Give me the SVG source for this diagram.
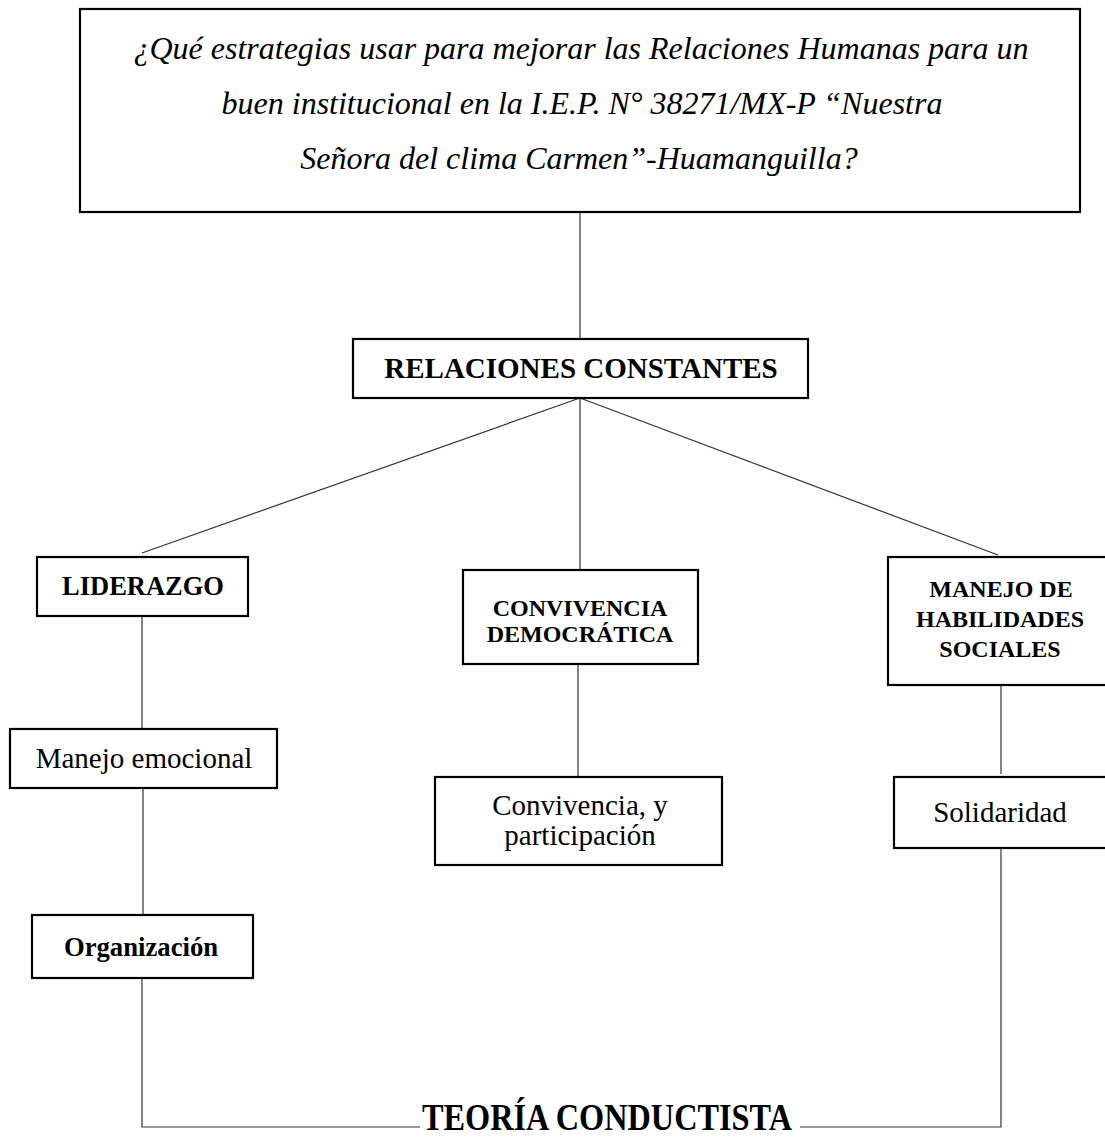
<svg xmlns="http://www.w3.org/2000/svg" width="1105" height="1140" viewBox="0 0 1105 1140">
<style>
.box{fill:#fff;stroke:#000;stroke-width:2.2}
.conn line,.conn polyline{stroke:#333;stroke-width:1.2;fill:none}
text{font-family:"Liberation Serif","Times New Roman",serif;fill:#000;text-anchor:middle}
.q{font-style:italic;font-size:32px}
.b{font-weight:bold}
.r{font-size:29px}
</style>
<rect width="1105" height="1140" fill="#fff"/>
<g class="conn">
<line x1="580" y1="212" x2="580" y2="339"/>
<line x1="580" y1="398" x2="142" y2="553"/>
<line x1="580" y1="398" x2="580" y2="570"/>
<line x1="580" y1="398" x2="998" y2="555"/>
<line x1="142" y1="616" x2="142" y2="729"/>
<line x1="143" y1="788" x2="143" y2="915"/>
<line x1="578" y1="664" x2="578" y2="777"/>
<line x1="1001" y1="686" x2="1001" y2="774"/>
<polyline points="142,978 142,1127 420,1127"/>
<polyline points="800,1127 1001,1127 1001,848"/>
</g>
<g id="question">
<rect class="box" x="80" y="9" width="1000" height="203"/>
<text class="q" x="581" y="59">¿Qué estrategias usar para mejorar las Relaciones Humanas para un</text>
<text class="q" x="582" y="114">buen institucional en la I.E.P. N° 38271/MX-P “Nuestra</text>
<text class="q" x="579" y="169">Señora del clima Carmen”-Huamanguilla?</text>
</g>
<g id="relaciones">
<rect class="box" x="353" y="339" width="455" height="59"/>
<text class="b" x="581" y="378" font-size="29">RELACIONES CONSTANTES</text>
</g>
<g id="liderazgo">
<rect class="box" x="37" y="557" width="211" height="59"/>
<text class="b" x="143" y="595" font-size="26.5">LIDERAZGO</text>
</g>
<g id="convivencia-democratica">
<rect class="box" x="463" y="570" width="235" height="94"/>
<text class="b" x="580" y="616" font-size="24">CONVIVENCIA</text>
<text class="b" x="580" y="642" font-size="24">DEMOCRÁTICA</text>
</g>
<g id="habilidades">
<rect class="box" x="888" y="557" width="226" height="128"/>
<text class="b" x="1001" y="597" font-size="24">MANEJO DE</text>
<text class="b" x="1000" y="627" font-size="24">HABILIDADES</text>
<text class="b" x="1000" y="657" font-size="24">SOCIALES</text>
</g>
<g id="manejo-emocional">
<rect class="box" x="10" y="729" width="267" height="59"/>
<text class="r" x="144" y="768">Manejo emocional</text>
</g>
<g id="convivencia-participacion">
<rect class="box" x="435" y="777" width="287" height="88"/>
<text class="r" x="580" y="815">Convivencia, y</text>
<text class="r" x="580" y="845">participación</text>
</g>
<g id="solidaridad">
<rect class="box" x="894" y="777" width="220" height="71"/>
<text class="r" x="1000" y="822">Solidaridad</text>
</g>
<g id="organizacion">
<rect class="box" x="32" y="915" width="221" height="63"/>
<text class="b" x="141" y="956" font-size="26.7">Organización</text>
</g>
<g id="teoria">
<text class="b" x="607" y="1130" font-size="38" textLength="370" lengthAdjust="spacingAndGlyphs">TEORÍA CONDUCTISTA</text>
</g>
</svg>
